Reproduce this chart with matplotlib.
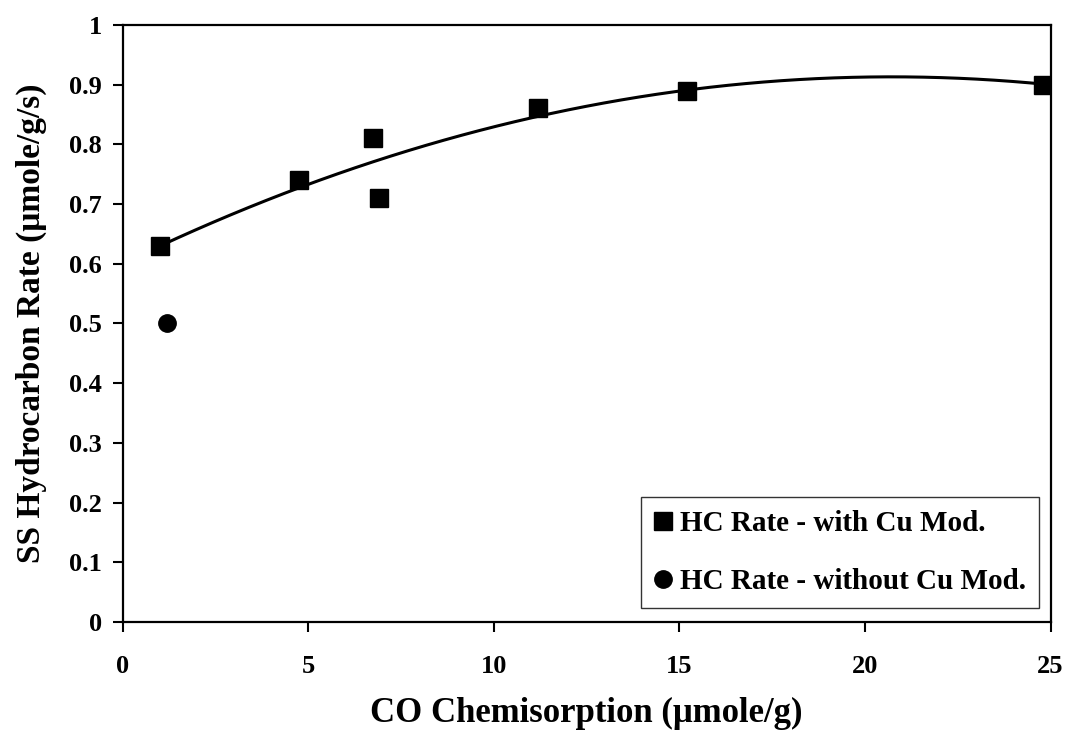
import numpy as np
import matplotlib
matplotlib.use("Agg")
import matplotlib.pyplot as plt
from matplotlib.ticker import FuncFormatter

plt.rcParams['font.family'] = ['Liberation Serif', 'DejaVu Serif']
plt.rcParams['font.weight'] = 'bold'

# CO chemisorption (umole/g) vs steady-state hydrocarbon rate (umole/g/s)
co_cu = [1.0, 4.75, 6.75, 6.9, 11.2, 15.2, 24.8]
rate_cu = [0.63, 0.74, 0.81, 0.71, 0.86, 0.89, 0.90]
co_nocu = [1.2]
rate_nocu = [0.50]

fig = plt.figure(figsize=(10.72, 7.31), dpi=100)
ax = fig.add_axes([0.1145, 0.149, 0.8655, 0.817])

# second order trendline through the Cu-modified points
coef = np.polyfit(co_cu, rate_cu, 2)
xs = np.linspace(min(co_cu), max(co_cu), 200)
ax.plot(xs, np.polyval(coef, xs), color='black', lw=2.2, zorder=2)

ax.plot(co_cu, rate_cu, 's', color='black', ms=12.5, label='HC Rate - with Cu Mod.', zorder=3)
ax.plot(co_nocu, rate_nocu, 'o', color='black', ms=12.5, label='HC Rate - without Cu Mod.', zorder=3)

ax.set_xlim(0, 25)
ax.set_ylim(0, 1)
ax.set_xticks(np.arange(0, 26, 5))
ax.set_yticks(np.arange(0, 1.01, 0.1))
ax.yaxis.set_major_formatter(FuncFormatter(lambda v, p: f"{v:g}"))
ax.tick_params(direction='out', length=7, width=1.5, labelsize=19)
ax.tick_params(axis='y', pad=8)
ax.tick_params(axis='x', pad=17)
for s in ax.spines.values():
    s.set_linewidth(1.6)

ax.set_xlabel('CO Chemisorption (\u03bcmole/g)', fontsize=25, fontweight='bold', labelpad=13)
ax.set_ylabel('SS Hydrocarbon Rate (\u03bcmole/g/s)', fontsize=24, fontweight='bold', labelpad=16)

leg = ax.legend(loc='lower right', bbox_to_anchor=(0.988, 0.0235), fontsize=21,
                frameon=True, fancybox=False, edgecolor='black', handlelength=0.6,
                handletextpad=0.3, labelspacing=1.05, borderpad=0.45, borderaxespad=0)
leg.get_frame().set_linewidth(1.0)

fig.savefig('out.png', dpi=100)
